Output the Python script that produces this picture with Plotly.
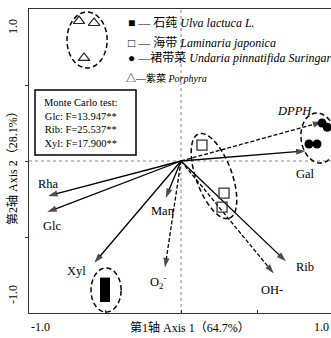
import numpy as np
import plotly.graph_objects as go

# ---------------- data ----------------
var_names = ["Gal", "DPPH", "Rha", "Glc", "Man", "Xyl", "O2-", "Rib", "OH-"]
var_x = [0.82, 0.93, -0.875, -0.88, -0.10, -0.57, -0.105, 0.69, 0.61]
var_y = [0.066, 0.257, -0.23, -0.336, -0.243, -0.67, -0.70, -0.66, -0.74]
response_vars = ["DPPH", "O2-", "OH-"]          # supplementary (dashed)

ulva_x = [-0.50, -0.50, -0.50]
ulva_y = [-0.80, -0.85, -0.895]
lam_x = [0.138, 0.283, 0.270]
lam_y = [0.105, -0.211, -0.303]
und_x = [0.842, 0.895, 0.928, 0.962]
und_y = [0.112, 0.112, 0.250, 0.222]
por_x = [-0.671, -0.572, -0.638]
por_y = [0.921, 0.908, 0.678]

axis1_pct = 64.7
axis2_pct = 28.1
mc_vars = ["Glc", "Rib", "Xyl"]
mc_F = [13.947, 25.537, 17.900]

# ---------------- layout geometry ----------------
W, H = 331, 338
L, R, T, B = 29, 0, 9, 25
PW, PH = W - L - R, H - T - B
PXU = 152.0                       # pixels per axis unit
XR = [-1.0, -1.0 + PW / PXU]
YR = [-1.0, 1.0]

SERIF = "Liberation Serif, Times New Roman, Noto Sans CJK SC, serif"


def px(xp):
    return (xp - L) / PW


def py(yp):
    return (H - B - yp) / PH


def note(xp, yp, text, size=12, angle=0, xanchor="center"):
    fig.add_annotation(x=px(xp), y=py(yp), xref="paper", yref="paper", text=text,
                       textangle=angle, showarrow=False, xanchor=xanchor,
                       yanchor="middle",
                       font=dict(family=SERIF, size=size, color="black"))


fig = go.Figure()

# zero lines
fig.add_shape(type="line", x0=0, x1=0, y0=YR[0], y1=YR[1], xref="x", yref="y",
              line=dict(color="#888", width=1, dash="dot"), layer="below")
fig.add_shape(type="line", x0=XR[0], x1=XR[1], y0=0, y1=0, xref="x", yref="y",
              line=dict(color="#888", width=1, dash="dot"), layer="below")

# arrows (line + arrow-head marker at the tip)
label_shift = {"Gal": (0, -23), "DPPH": (-28, 11), "Rha": (0, 12), "Glc": (5, -14),
               "Man": (-3, -13), "Xyl": (-18, -8), "O2-": (-7, -15), "Rib": (19, -6),
               "OH-": (-2, -17)}
label_text = {"DPPH": "<i>DPPH</i>", "O2-": "O<sub>2</sub><sup>-</sup>"}
for n, x, y in zip(var_names, var_x, var_y):
    dashed = n in response_vars
    fig.add_trace(go.Scatter(
        x=[0, x], y=[0, y], mode="lines+markers",
        line=dict(color="black", width=1.3, dash="4px,2px" if dashed else "solid"),
        marker=dict(symbol="arrow", size=[0, 10], angleref="previous",
                    color="black", line=dict(width=0)),
        showlegend=False, hoverinfo="skip"))
    sx, sy = label_shift[n]
    fig.add_annotation(x=x, y=y, xref="x", yref="y", text=label_text.get(n, n),
                       showarrow=False, xshift=sx, yshift=sy,
                       xanchor="center", yanchor="middle",
                       font=dict(family=SERIF, size=12.5, color="black"))

# sample groups
fig.add_trace(go.Scatter(x=ulva_x, y=ulva_y, mode="markers",
                         marker=dict(symbol="square", size=10, color="black"),
                         showlegend=False, hoverinfo="skip"))
fig.add_trace(go.Scatter(x=lam_x, y=lam_y, mode="markers",
                         marker=dict(symbol="square-open", size=10, color="#333",
                                     line=dict(width=1.3)),
                         showlegend=False, hoverinfo="skip"))
fig.add_trace(go.Scatter(x=und_x, y=und_y, mode="markers",
                         marker=dict(symbol="circle", size=9, color="black"),
                         showlegend=False, hoverinfo="skip"))
fig.add_trace(go.Scatter(x=por_x, y=por_y, mode="markers",
                         marker=dict(symbol="triangle-up-open", size=10, color="#222",
                                     line=dict(width=1.2)),
                         showlegend=False, hoverinfo="skip"))


# group ellipses (centre, semi-axes, rotation in degrees), in axis units
def ellipse_path(cx, cy, a, b, ang):
    t = np.linspace(0, 2 * np.pi, 80)
    c, s = np.cos(np.radians(ang)), np.sin(np.radians(ang))
    xs = cx + a * np.cos(t) * c - b * np.sin(t) * s
    ys = cy + a * np.cos(t) * s + b * np.sin(t) * c
    return "M " + " L ".join(f"{u:.4f},{v:.4f}" for u, v in zip(xs, ys)) + " Z"


ellipses = [(-0.618, 0.796, 0.132, 0.184, 0),
            (-0.493, -0.849, 0.099, 0.145, 0),
            (0.217, -0.099, 0.295, 0.118, -70),
            (0.905, 0.151, 0.115, 0.165, 8)]
for e in ellipses:
    fig.add_shape(type="path", path=ellipse_path(*e), xref="x", yref="y",
                  line=dict(color="black", width=1.5, dash="5px,3px"))

# legend (text symbols)
note(126, 23, "■ — 石莼 <i>Ulva lactuca L.</i>", 12, xanchor="left")
note(126, 43, "□ — 海带 <i>Laminaria japonica</i>", 12, xanchor="left")
note(126, 58, "● —裙带菜 <i>Undaria pinnatifida Suringar</i>", 12, xanchor="left")
note(124, 78, "△—紫菜 <i>Porphyra</i>", 10, xanchor="left")

# Monte Carlo box
fig.add_shape(type="rect", x0=px(35), x1=px(136), y0=py(155), y1=py(90),
              xref="paper", yref="paper", line=dict(color="black", width=1.5),
              fillcolor="white")
mc_text = "Monte Carlo test:<br>" + "<br>".join(
    f"{v}: F={f:.3f}**" for v, f in zip(mc_vars, mc_F))
note(42, 123, mc_text, 10.5, xanchor="left")

# tick labels and axis titles
note(40, 327, "-1.0")
note(321, 327, "1.0")
note(13, 27, "1.0", angle=-90)
note(13, 295, "-1.0", angle=-90)
note(190, 327, f"第1轴 Axis 1（{axis1_pct}%）")
note(13, 165, f"第2轴 Axis 2（{axis2_pct}%）", angle=-90)

fig.update_xaxes(range=XR, showgrid=False, zeroline=False, showline=True,
                 linecolor="#333", linewidth=1.2, mirror=True, ticks="inside",
                 ticklen=3, tickcolor="#333", tickvals=[-0.5, 0, 0.5],
                 showticklabels=False, automargin=False)
fig.update_yaxes(range=YR, showgrid=False, zeroline=False, showline=True,
                 linecolor="#333", linewidth=1.2, ticks="outside", ticklen=3,
                 tickcolor="#333", tickvals=[-0.5, 0, 0.5], showticklabels=False,
                 automargin=False)

fig.update_layout(width=W, height=H, autosize=False,
                  margin=dict(l=L, r=R, t=T, b=B, autoexpand=False),
                  plot_bgcolor="white", paper_bgcolor="white", showlegend=False)

fig.write_html("out.html", config={"displayModeBar": False},
               post_script="document.body.style.margin='0';")
